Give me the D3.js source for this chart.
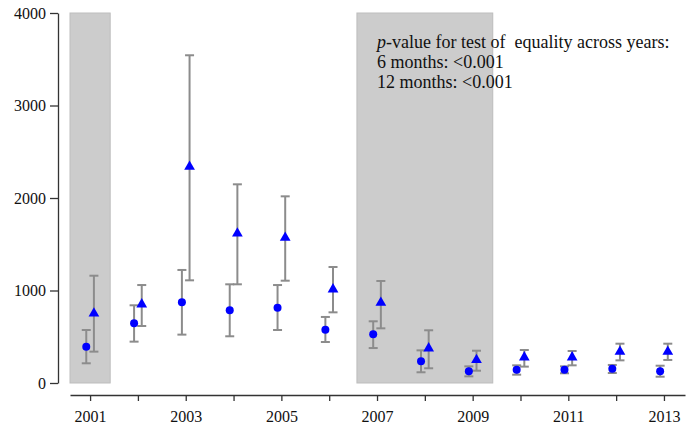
<!DOCTYPE html>
<html>
<head>
<meta charset="utf-8">
<script src="https://cdn.jsdelivr.net/npm/d3@7/dist/d3.min.js"></script>
<style>
  html, body { margin: 0; padding: 0; background: #fff; }
  svg { display: block; }
  svg text { font-family: "Liberation Serif", "Times New Roman", "DejaVu Serif", serif !important; }
</style>
</head>
<body>
<svg id="chart" width="699" height="427"></svg>
<script>
// Years on the x axis
const years = [2001, 2002, 2003, 2004, 2005, 2006, 2007, 2008, 2009, 2010, 2011, 2012, 2013];
const yearLabels = [2001, 2003, 2005, 2007, 2009, 2011, 2013];
const yTicks = [0, 1000, 2000, 3000, 4000];

// 6-month estimates (circles) with lower / upper bounds
const sixMonth = [392, 645, 872, 786, 814, 577, 526, 234, 126, 144, 144, 155, 126];
const sixLow   = [213, 447, 523, 505, 573, 443, 378, 116, 72, 90, 105, 108, 68];
const sixHigh  = [573, 840, 1222, 1067, 1059, 714, 667, 353, 180, 191, 180, 195, 187];

// 12-month estimates (triangles) with lower / upper bounds
const twelveMonth = [753, 851, 2339, 1618, 1571, 1013, 868, 375, 249, 278, 278, 339, 339];
const twelveLow   = [339, 616, 1110, 1067, 1106, 764, 591, 159, 133, 177, 191, 245, 249];
const twelveHigh  = [1160, 1059, 3543, 2148, 2018, 1254, 1103, 570, 349, 357, 346, 425, 425];

// Shaded periods (in year units)
const shadeStart = [2000.58, 2006.58];
const shadeEnd   = [2001.42, 2009.42];

const noteLines = ["-value for test of  equality across years:", "6 months: <0.001", "12 months: <0.001"];

const svg = d3.select("#chart");

const x = d3.scaleLinear().domain([2000.58, 2013.44]).range([70, 685]);
const y = d3.scaleLinear().domain([0, 4000]).range([383, 13]);

const offset = 0.08;
const errColor = "#8c8c8c";
const markColor = "#0000ff";
const serif = "'Liberation Serif', 'Times New Roman', 'DejaVu Serif', serif";

// shaded periods
svg.append("g").selectAll("rect")
  .data(shadeStart.map((s, i) => ({ s, e: shadeEnd[i] })))
  .join("rect")
  .attr("x", d => x(d.s))
  .attr("width", d => x(d.e) - x(d.s))
  .attr("y", y(4000))
  .attr("height", y(0) - y(4000))
  .attr("fill", "#cccccc")
  .attr("stroke", "#bdbdbd")
  .attr("stroke-width", 1);

// y axis
const yAxis = svg.append("g")
  .attr("transform", "translate(58,0)")
  .call(d3.axisLeft(y).tickValues(yTicks).tickFormat(d3.format("d"))
    .tickSize(8).tickSizeOuter(0).tickPadding(4));
yAxis.attr("font-family", serif);
yAxis.select(".domain").attr("stroke", "#333").attr("stroke-width", 1.3);
yAxis.selectAll(".tick line").attr("stroke", "#333").attr("stroke-width", 1.3);
yAxis.selectAll(".tick text").attr("font-size", 16).attr("fill", "#111");

// x axis
const xAxis = svg.append("g")
  .attr("transform", "translate(0,395)")
  .call(d3.axisBottom(x).tickValues(years).tickSize(6).tickSizeOuter(0).tickPadding(10)
    .tickFormat(d => yearLabels.includes(d) ? String(d) : ""));
xAxis.attr("font-family", serif);
xAxis.select(".domain").attr("stroke", "#333").attr("stroke-width", 1.3);
xAxis.selectAll(".tick line").attr("stroke", "#333").attr("stroke-width", 1.3);
xAxis.selectAll(".tick text").attr("font-size", 16).attr("fill", "#111");

// error bars
function errorBars(lows, highs, dx) {
  const g = svg.append("g").attr("stroke", errColor).attr("stroke-width", 2).attr("fill", "none");
  const data = years.map((yr, i) => ({ yr, lo: lows[i], hi: highs[i] }));
  g.selectAll("line.v").data(data).join("line").attr("class", "v")
    .attr("x1", d => x(d.yr + dx)).attr("x2", d => x(d.yr + dx))
    .attr("y1", d => y(d.lo)).attr("y2", d => y(d.hi));
  g.selectAll("line.t").data(data).join("line").attr("class", "t")
    .attr("x1", d => x(d.yr + dx) - 4.5).attr("x2", d => x(d.yr + dx) + 4.5)
    .attr("y1", d => y(d.hi)).attr("y2", d => y(d.hi));
  g.selectAll("line.b").data(data).join("line").attr("class", "b")
    .attr("x1", d => x(d.yr + dx) - 4.5).attr("x2", d => x(d.yr + dx) + 4.5)
    .attr("y1", d => y(d.lo)).attr("y2", d => y(d.lo));
}
errorBars(sixLow, sixHigh, -offset);
errorBars(twelveLow, twelveHigh, offset);

// 6-month markers
svg.append("g").selectAll("circle")
  .data(years.map((yr, i) => ({ yr, v: sixMonth[i] })))
  .join("circle")
  .attr("cx", d => x(d.yr - offset))
  .attr("cy", d => y(d.v))
  .attr("r", 4)
  .attr("fill", markColor);

// 12-month markers
const tri = d3.symbol().type(d3.symbolTriangle).size(50);
svg.append("g").selectAll("path")
  .data(years.map((yr, i) => ({ yr, v: twelveMonth[i] })))
  .join("path")
  .attr("d", tri)
  .attr("transform", d => `translate(${x(d.yr + offset)},${y(d.v)})`)
  .attr("fill", markColor);

// annotation
const note = svg.append("g").attr("font-size", 18).attr("fill", "#111").attr("font-family", serif);
const first = note.append("text").attr("x", 377).attr("y", 48);
first.append("tspan").attr("font-style", "italic").text("p");
first.append("tspan").style("white-space", "pre").text(noteLines[0]);
note.append("text").attr("x", 377).attr("y", 68).text(noteLines[1]);
note.append("text").attr("x", 377).attr("y", 88).text(noteLines[2]);
</script>
</body>
</html>
